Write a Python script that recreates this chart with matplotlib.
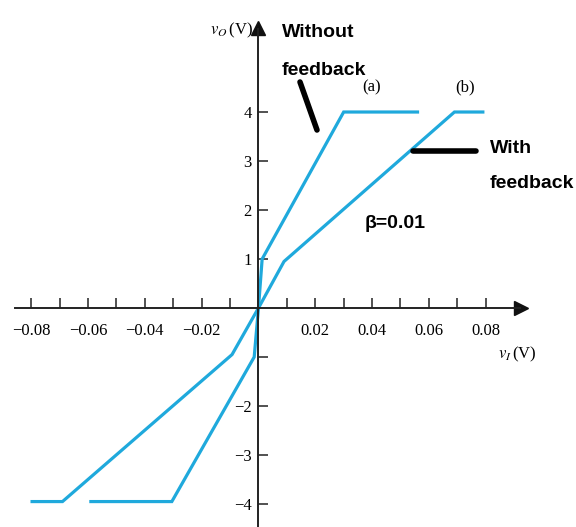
import numpy as np
import matplotlib
matplotlib.use('Agg')
import matplotlib.pyplot as plt
from matplotlib.lines import Line2D

plt.rcParams['mathtext.fontset'] = 'stix'

# transfer characteristic
vi_a = [-0.059, -0.0305, -0.0015, 0.0, 0.0013, 0.030, 0.056]   # without feedback
vo_a = [-3.95, -3.95, -1.0, 0.0, 1.0, 4.0, 4.0]
vi_b = [-0.0797, -0.069, -0.0093, 0.0, 0.009, 0.069, 0.079]    # with feedback
vo_b = [-3.95, -3.95, -0.95, 0.0, 0.95, 4.0, 4.0]

x_ticks = [-0.08, -0.07, -0.06, -0.05, -0.04, -0.03, -0.02, -0.01,
           0.01, 0.02, 0.03, 0.04, 0.05, 0.06, 0.07, 0.08]
x_labels = ['\u22120.08', '', '\u22120.06', '', '\u22120.04', '', '\u22120.02', '',
            '', '0.02', '', '0.04', '', '0.06', '', '0.08']
y_ticks = [-4, -3, -2, -1, 1, 2, 3, 4]
y_labels = ['\u22124', '\u22123', '\u22122', '', '1', '2', '3', '4']

blue = '#1fa9dc'
serif = 'Liberation Serif'
bold_sans = ['Liberation Sans', 'DejaVu Sans']
note_size = 14

fig = plt.figure(figsize=(5.76, 5.27), dpi=100)
ax = fig.add_axes([0, 0, 1, 1])
ax.set_xlim(-0.0910, 0.1118)
ax.set_ylim(-4.469, 6.286)

ax.plot(vi_a, vo_a, color=blue, lw=2.3, solid_joinstyle='miter')
ax.plot(vi_b, vo_b, color=blue, lw=2.3, solid_joinstyle='miter')

# axes through the origin
for s in ['top', 'right']:
    ax.spines[s].set_visible(False)
ax.spines['left'].set_position(('data', 0))
ax.spines['bottom'].set_position(('data', 0))
ax.spines['bottom'].set_bounds(-0.0857, 0.092)
ax.spines['left'].set_bounds(-4.6, 5.7)
for s in ['left', 'bottom']:
    ax.spines[s].set_linewidth(1.4)
    ax.spines[s].set_color('#222222')
ax.plot([0.0925], [0], marker='>', color='#111111', ms=10, clip_on=False)
ax.plot([0], [5.72], marker='^', color='#111111', ms=10, clip_on=False)

ax.set_xticks(x_ticks)
ax.set_xticklabels(x_labels, fontfamily=serif, fontsize=12)
ax.set_yticks(y_ticks)
ax.set_yticklabels(y_labels, fontfamily=serif, fontsize=12)
ax.tick_params(axis='x', direction='in', length=7, width=1.1, pad=11, color='#222222')
ax.tick_params(axis='y', direction='in', length=7, width=1.1, pad=5, color='#222222')

def px(x, y):
    return x / 576, 1 - y / 527

# axis titles
fig.text(*px(253, 30), r'$v_O\,$(V)', fontsize=12, fontfamily=serif,
         ha='right', va='center')
fig.text(*px(498, 354), r'$v_I\,$(V)', fontsize=12, fontfamily=serif,
         ha='left', va='center')

# annotations
fig.text(*px(282, 37), 'Without', fontsize=note_size, fontweight='bold',
         family=bold_sans, ha='left', va='baseline')
fig.text(*px(282, 75), 'feedback', fontsize=note_size, fontweight='bold',
         family=bold_sans, ha='left', va='baseline')
fig.text(*px(372, 87), '(a)', fontsize=12, fontfamily=serif, ha='center', va='center')
fig.text(*px(465, 87), '(b)', fontsize=12, fontfamily=serif, ha='center', va='center')
fig.text(*px(490, 153), 'With', fontsize=note_size, fontweight='bold',
         family=bold_sans, ha='left', va='baseline')
fig.text(*px(490, 188), 'feedback', fontsize=note_size, fontweight='bold',
         family=bold_sans, ha='left', va='baseline')
fig.text(*px(365, 228), '\u03b2=0.01', fontsize=note_size, fontweight='bold',
         family=bold_sans, ha='left', va='baseline')

# pointer strokes
for (x0, y0), (x1, y1) in [((300, 82), (317, 130)), ((413, 151), (476, 151))]:
    a, b = px(x0, y0)
    c, d = px(x1, y1)
    fig.add_artist(Line2D([a, c], [b, d], transform=fig.transFigure,
                          color='black', lw=4, solid_capstyle='round'))

fig.savefig('out.png', dpi=100)
